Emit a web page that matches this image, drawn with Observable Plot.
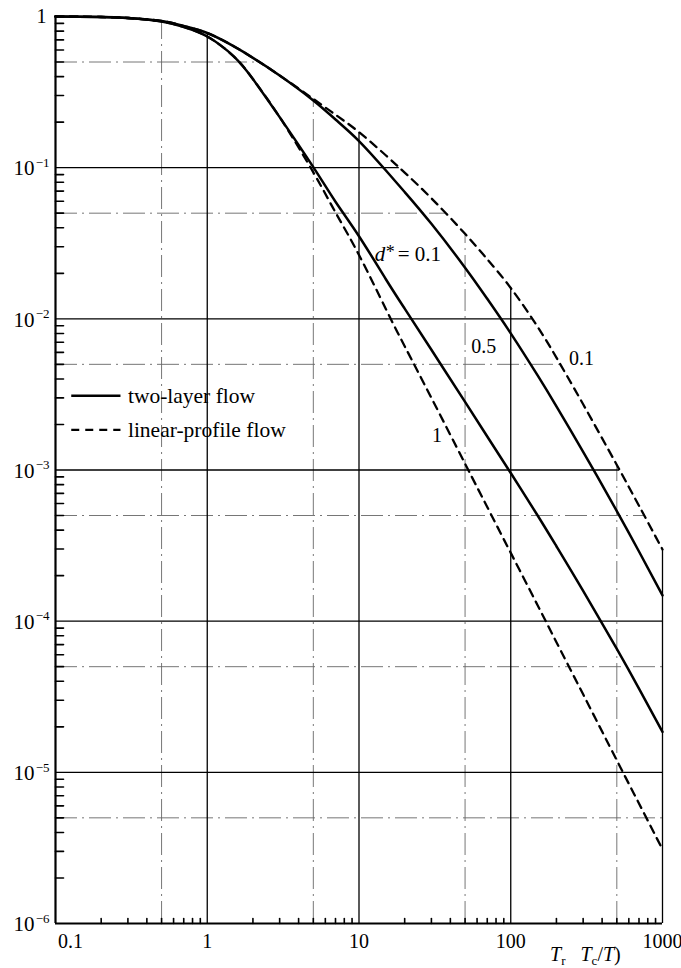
<!DOCTYPE html>
<html>
<head>
<meta charset="utf-8">
<script src="https://cdn.jsdelivr.net/npm/d3@7"></script>
<script src="https://cdn.jsdelivr.net/npm/@observablehq/plot@0.6"></script>
<style>
  body { margin: 0; background: #fff; }
  #chart svg { display: block; }
</style>
</head>
<body>
<div id="chart"></div>
<script>
// Reduced temperature T_r at which each curve is sampled
const T = [0.1, 0.2, 0.3, 0.5, 0.7, 1, 1.5, 2, 3, 5, 7, 10, 15, 20, 30, 50, 70, 100, 150, 200, 300, 500, 700, 1000];

// Two-layer flow, d* = 0.1
const twoLayer01 = [1.0, 0.9924, 0.9774, 0.9337, 0.865, 0.7776, 0.6339, 0.5328, 0.4074, 0.2786, 0.2083, 0.150, 0.0961, 0.0690, 0.0425, 0.0218, 0.01357, 0.00802, 0.00424, 0.00264, 0.00132, 5.35e-4, 2.89e-4, 1.48e-4];
// Two-layer flow, d* = 0.5
const twoLayer05 = [1.0, 0.9924, 0.9774, 0.9266, 0.852, 0.737, 0.543, 0.3855, 0.216, 0.1008, 0.0595, 0.0352, 0.01835, 0.01168, 0.00624, 0.00282, 0.001667, 9.55e-4, 5.02e-4, 3.13e-4, 1.585e-4, 6.55e-5, 3.58e-5, 1.85e-5];
// Linear-profile flow, d* = 0.1
const linear01 = [1.0, 0.9924, 0.9774, 0.9337, 0.865, 0.7776, 0.6339, 0.5328, 0.4074, 0.285, 0.224, 0.1718, 0.1208, 0.0928, 0.0627, 0.0365, 0.0248, 0.0160, 0.00889, 0.00554, 0.00272, 0.00108, 5.80e-4, 2.98e-4];
// Linear-profile flow, d* = 1
const linear1 = [1.0, 0.9924, 0.9774, 0.9266, 0.852, 0.737, 0.543, 0.3855, 0.216, 0.0931, 0.0506, 0.02645, 0.01166, 0.00659, 0.0030, 0.0011, 5.69e-4, 2.83e-4, 1.28e-4, 7.26e-5, 3.28e-5, 1.2e-5, 6.22e-6, 3.09e-6];

// Axis ticks
const xTickValues = [0.1, 1, 10, 100, 1000];
const xTickLabels = ["0.1", "1", "10", "100", "1000"];
const yTickValues = [1, 1e-1, 1e-2, 1e-3, 1e-4, 1e-5, 1e-6];
const yTickExponents = ["", "−1", "−2", "−3", "−4", "−5", "−6"];

// Curve labels
const labelTexts = ["0.5", "0.1", "1"];
const labelX = [66.4, 293, 32.6];
const labelY = [0.00653, 0.00543, 0.00168];

// Legend entries
const legendNames = ["two-layer flow", "linear-profile flow"];

// ---------------------------------------------------------------------------

const serif = "'Liberation Serif', 'DejaVu Serif', serif";

const series = (name, values) => T.map((t, i) => ({ T: t, v: values[i], name }));
const solidRows = [...series("twoLayer01", twoLayer01), ...series("twoLayer05", twoLayer05)];
const dashedRows = [...series("linear01", linear01), ...series("linear1", linear1)];

// Grid lines are drawn only underneath the outermost curve (linear-profile, d* = 0.1)
const lg = Math.log10;
function envelopeAt(x) {
  const lx = lg(x);
  for (let i = 0; i < T.length - 1; i++) {
    const a = lg(T[i]), b = lg(T[i + 1]);
    if (lx >= a && lx <= b) {
      const t = (lx - a) / (b - a);
      return 10 ** (lg(linear01[i]) + t * (lg(linear01[i + 1]) - lg(linear01[i])));
    }
  }
  return linear01[linear01.length - 1];
}
function envelopeReach(y) {
  const ly = lg(y);
  for (let i = 0; i < T.length - 1; i++) {
    const a = lg(linear01[i]), b = lg(linear01[i + 1]);
    if (ly <= a && ly >= b && a !== b) {
      const t = (ly - a) / (b - a);
      return 10 ** (lg(T[i]) + t * (lg(T[i + 1]) - lg(T[i])));
    }
  }
  return 1000;
}

const decadesX = [1, 10, 100, 1000];
const decadesY = [1e-1, 1e-2, 1e-3, 1e-4, 1e-5];
const halvesX = [0.5, 5, 50, 500];
const halvesY = [0.5, 5e-2, 5e-3, 5e-4, 5e-5, 5e-6];

const minorY = [];
for (let e = -6; e <= -1; e++) for (let k = 2; k <= 9; k++) minorY.push(k * 10 ** e);
const minorX = [];
for (let e = -1; e <= 2; e++) for (let k = 2; k <= 9; k++) minorX.push(k * 10 ** e);

const tickShape = { draw(context, l) { context.moveTo(0, 0); context.lineTo(0, -l); } };

const xTicks = xTickValues.map((v, i) => ({ v, label: xTickLabels[i] }));
const yTicks = yTickValues.map((v, i) => ({ v, exp: yTickExponents[i] }));
const curveLabels = labelTexts.map((text, i) => ({ text, x: labelX[i], y: labelY[i] }));

// Legend layout (in data units of the plot)
const legendX1 = 0.127, legendX2 = 0.268, legendTextX = 0.3;
const legendRowY = [0.0031, 0.00184];
const legendRows = legendNames.map((name, i) => ({ name, y: legendRowY[i], dashed: i === 1 }));

const plot = Plot.plot({
  width: 681,
  height: 968,
  marginLeft: 55,
  marginRight: 19,
  marginTop: 16,
  marginBottom: 45,
  style: { fontFamily: serif, background: "#fff", color: "#000" },
  x: { type: "log", domain: [0.1, 1000], axis: null },
  y: { type: "log", domain: [1e-6, 1], axis: null },
  marks: [
    // half-decade guide lines
    Plot.ruleX(halvesX, { x: d => d, y1: 1e-6, y2: d => envelopeAt(d), stroke: "#666", strokeWidth: 0.9, strokeDasharray: "22,5,2,5" }),
    Plot.ruleY(halvesY, { y: d => d, x1: 0.1, x2: d => envelopeReach(d), stroke: "#666", strokeWidth: 0.9, strokeDasharray: "22,5,2,5" }),
    // decade grid lines
    Plot.ruleX(decadesX, { x: d => d, y1: 1e-6, y2: d => envelopeAt(d), stroke: "#000", strokeWidth: 1.3 }),
    Plot.ruleY(decadesY, { y: d => d, x1: 0.1, x2: d => envelopeReach(d), stroke: "#000", strokeWidth: 1.3 }),
    // axes
    Plot.ruleX([0.1], { y1: 1e-6, y2: 1, stroke: "#000", strokeWidth: 2.2 }),
    Plot.ruleY([1e-6], { x1: 0.1, x2: 1000, stroke: "#000", strokeWidth: 2.2 }),
    Plot.vector(minorY, { x: 0.1, y: d => d, length: 8, rotate: 90, anchor: "start", shape: tickShape, stroke: "#000", strokeWidth: 1.6 }),
    Plot.vector(minorX, { x: d => d, y: 1e-6, length: 5, rotate: 0, anchor: "start", shape: tickShape, stroke: "#000", strokeWidth: 1.6 }),
    // tick labels
    Plot.text(xTicks.filter(d => d.v === 0.1), { x: "v", y: 1e-6, text: "label", dx: 15, dy: 18, fontSize: 20, fill: "#000" }),
    Plot.text(xTicks.filter(d => d.v !== 0.1), { x: "v", y: 1e-6, text: "label", dy: 18, fontSize: 20, fill: "#000" }),
    Plot.text(yTicks.filter(d => d.exp === ""), { x: 0.1, y: "v", text: () => "1", dx: -9, fontSize: 20, textAnchor: "end", fill: "#000" }),
    Plot.text(yTicks.filter(d => d.exp !== ""), { x: 0.1, y: "v", text: () => "10", dx: -21, dy: 1, fontSize: 21, textAnchor: "end", fill: "#000" }),
    Plot.text(yTicks.filter(d => d.exp !== ""), { x: 0.1, y: "v", text: "exp", dx: -6, dy: -5, fontSize: 13, textAnchor: "end", fill: "#000" }),
    // curves
    Plot.line(dashedRows, { x: "T", y: "v", z: "name", stroke: "#000", strokeWidth: 2.3, strokeDasharray: "8,6", curve: "natural" }),
    Plot.line(solidRows, { x: "T", y: "v", z: "name", stroke: "#000", strokeWidth: 2.5, curve: "natural" }),
    // curve labels
    Plot.text(["d"], { x: 12.7, y: 0.0269, text: d => d, fontSize: 21, fontStyle: "italic", textAnchor: "start", fill: "#000" }),
    Plot.text(["*"], { x: 12.7, y: 0.0269, text: d => d, dx: 11, dy: -2, fontSize: 18, textAnchor: "start", fill: "#000" }),
    Plot.text(["= 0.1"], { x: 18.0, y: 0.0269, text: d => d, fontSize: 21, textAnchor: "start", fill: "#000" }),
    Plot.text(curveLabels, { x: "x", y: "y", text: "text", fontSize: 20, fill: "#000" }),
    // legend
    Plot.link(legendRows.filter(d => !d.dashed), { x1: legendX1, x2: legendX2, y1: "y", y2: "y", stroke: "#000", strokeWidth: 2.5 }),
    Plot.link(legendRows.filter(d => d.dashed), { x1: legendX1, x2: legendX2, y1: "y", y2: "y", stroke: "#000", strokeWidth: 2.3, strokeDasharray: "8,6" }),
    Plot.text(legendRows, { x: legendTextX, y: "y", text: "name", fontSize: 21.5, textAnchor: "start", fill: "#000" })
  ]
});

document.getElementById("chart").append(plot);

// x-axis title: T_r  T_c/T)
const svg = d3.select(plot);
const title = svg.append("text")
  .attr("x", 550)
  .attr("y", 961)
  .attr("text-anchor", "start")
  .attr("font-family", serif)
  .attr("font-size", 20)
  .attr("fill", "#000");
title.append("tspan").attr("font-style", "italic").text("T");
title.append("tspan").attr("font-size", 13).attr("dy", 4).text("r");
title.append("tspan").attr("dy", -4).text("\u2002 ");
title.append("tspan").attr("font-style", "italic").text("T");
title.append("tspan").attr("font-size", 13).attr("dy", 4).text("c");
title.append("tspan").attr("dy", -4).text("/");
title.append("tspan").attr("font-style", "italic").text("T");
title.append("tspan").text(")");
</script>
</body>
</html>
